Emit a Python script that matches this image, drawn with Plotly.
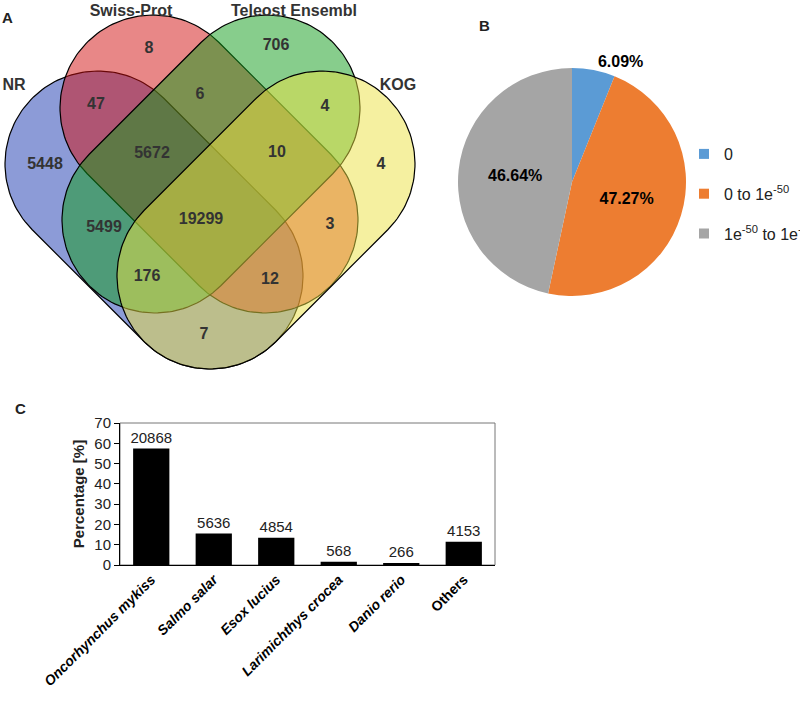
import numpy as np
import plotly.graph_objects as go

FONT = "Arial, Liberation Sans, sans-serif"

# ---- panel A: four-way annotation overlap ----
venn_sets = ["NR", "Swiss-Prot", "Teleost Ensembl", "KOG"]
venn_regions = ["NR", "SP", "TE", "KOG", "NR&SP", "SP&TE", "TE&KOG", "NR&KOG",
                "NR&SP&TE", "SP&TE&KOG", "NR&SP&TE&KOG", "NR&TE", "SP&KOG",
                "NR&TE&KOG", "NR&SP&KOG"]
venn_counts = [5448, 8, 706, 4, 47, 6, 4, 7, 5672, 10, 19299, 5499, 3, 176, 12]

# ---- panel B: e-value distribution ----
evalue_labels = ["0", "0 to 1e<sup>-50</sup>", "1e<sup>-50</sup> to 1e<sup>-5</sup>"]
evalue_pct = [6.09, 47.27, 46.64]

# ---- panel C: top-hit species ----
species = ["Oncorhynchus mykiss", "Salmo salar", "Esox lucius",
           "Larimichthys crocea", "Danio rerio", "Others"]
species_pct = [57.4, 15.5, 13.4, 1.6, 0.7, 11.4]
species_hits = [20868, 5636, 4854, 568, 266, 4153]

# venn layout (axis units = pixels of the panel)
R = 93
capsule_ends = {
    "NR": ((98, 164), (210, 276)),
    "Swiss-Prot": ((153, 108), (265, 220)),
    "Teleost Ensembl": ((267, 108), (155, 220)),
    "KOG": ((322, 164), (210, 276)),
}
set_fill = {
    "NR": "rgba(25,55,175,0.5)",
    "Swiss-Prot": "rgba(209,15,15,0.5)",
    "Teleost Ensembl": "rgba(15,155,25,0.5)",
    "KOG": "rgba(235,225,65,0.5)",
}
set_label_pos = {"NR": (14, 86), "Swiss-Prot": (131, 12),
                 "Teleost Ensembl": (294, 12), "KOG": (398, 86)}
region_pos = {
    "NR": (45, 165), "SP": (149, 49), "TE": (276, 46), "KOG": (381, 165),
    "NR&SP": (96, 105), "SP&TE": (200, 95), "TE&KOG": (325, 107),
    "NR&KOG": (204, 335), "NR&SP&TE": (152, 154), "SP&TE&KOG": (277, 153),
    "NR&SP&TE&KOG": (201, 220), "NR&TE": (104, 228), "SP&KOG": (330, 225),
    "NR&TE&KOG": (147, 277), "NR&SP&KOG": (270, 280),
}


def capsule(p1, p2, r, n=80):
    p1, p2 = np.asarray(p1, float), np.asarray(p2, float)
    d = p2 - p1
    ang = np.arctan2(d[1], d[0])
    t1 = np.linspace(ang + np.pi / 2, ang + 3 * np.pi / 2, n)
    t2 = np.linspace(ang - np.pi / 2, ang + np.pi / 2, n)
    xs = np.concatenate([p1[0] + r * np.cos(t1), p2[0] + r * np.cos(t2), [p1[0] + r * np.cos(t1[0])]])
    ys = np.concatenate([p1[1] + r * np.sin(t1), p2[1] + r * np.sin(t2), [p1[1] + r * np.sin(t1[0])]])
    return xs, ys


fig = go.Figure()

for name in venn_sets:
    xs, ys = capsule(*capsule_ends[name], R)
    fig.add_trace(go.Scatter(
        x=xs, y=ys, mode="lines", fill="toself",
        fillcolor=set_fill[name], line=dict(color="black", width=1.2),
        hoverinfo="skip", showlegend=False, xaxis="x", yaxis="y"
    ))

fig.add_trace(go.Scatter(
    x=[region_pos[r][0] for r in venn_regions],
    y=[region_pos[r][1] for r in venn_regions],
    text=[f"<b>{c}</b>" for c in venn_counts],
    mode="text", textfont=dict(family=FONT, size=16, color="#333333"),
    hoverinfo="skip", showlegend=False, xaxis="x", yaxis="y"
))
fig.add_trace(go.Scatter(
    x=[set_label_pos[s][0] for s in venn_sets],
    y=[set_label_pos[s][1] for s in venn_sets],
    text=[f"<b>{s}</b>" for s in venn_sets],
    mode="text", textfont=dict(family=FONT, size=16, color="#333333"),
    hoverinfo="skip", showlegend=False, xaxis="x", yaxis="y"
))

# pie
pie_colors = ["#5B9BD5", "#ED7D31", "#A5A5A5"]
fig.add_trace(go.Pie(
    labels=evalue_labels, values=evalue_pct,
    sort=False, direction="clockwise", rotation=0,
    marker=dict(colors=pie_colors, line=dict(width=0)),
    texttemplate="<b>%{value:.2f}%</b>",
    textposition=["outside", "inside", "inside"],
    insidetextorientation="horizontal",
    textfont=dict(family=FONT, size=16, color="black"),
    showlegend=False, hoverinfo="skip",
    domain=dict(x=[458 / 800, 686 / 800], y=[1 - 296 / 704, 1 - 68 / 704])
))
# legend entries for the pie
for lab, col in zip(evalue_labels, pie_colors):
    fig.add_trace(go.Scatter(
        x=[None], y=[None], mode="markers", name=lab, legendgroup=lab,
        marker=dict(symbol="square", size=10, color=col),
        xaxis="x", yaxis="y"
    ))

# bars
fig.add_trace(go.Bar(
    x=species, y=species_pct, text=species_hits, textposition="outside",
    constraintext="none",
    textfont=dict(family=FONT, size=15, color="#222222"),
    marker=dict(color="black", line=dict(width=0)),
    cliponaxis=False, showlegend=False, hoverinfo="skip",
    xaxis="x2", yaxis="y2"
))

tick_text = [f"<b><i>{s}</i></b>" if s != "Others" else f"<b>{s}</b>" for s in species]

panel_letter = dict(xref="paper", yref="paper", xanchor="center", yanchor="middle",
                    showarrow=False, font=dict(family=FONT, size=15, color="#222222"))

fig.update_layout(
    width=800, height=704,
    margin=dict(l=0, r=0, t=0, b=0, autoexpand=False),
    paper_bgcolor="white", plot_bgcolor="rgba(0,0,0,0)",
    font=dict(family=FONT, color="#222222"),
    bargap=0.42,
    xaxis=dict(domain=[0, 420 / 800], range=[0, 420], visible=False),
    yaxis=dict(domain=[1 - 372 / 704, 1], range=[372, 0], visible=False),
    xaxis2=dict(domain=[120 / 800, 495 / 800], anchor="y2", range=[-0.5, 5.5],
                showline=True, linecolor="black", linewidth=1, ticks="",
                tickvals=species, ticktext=tick_text, tickangle=-45,
                tickfont=dict(family=FONT, size=14, color="black"),
                showgrid=False, zeroline=False, fixedrange=True),
    yaxis2=dict(domain=[1 - 565 / 704, 1 - 423 / 704], anchor="x2", range=[0, 70],
                dtick=10, showline=True, linecolor="black", linewidth=1,
                ticks="outside", ticklen=5, tickcolor="black",
                tickfont=dict(family=FONT, size=15, color="#222222"),
                title=dict(text="<b>Percentage [%]</b>", font=dict(family=FONT, size=15, color="#222222"),
                           standoff=6),
                showgrid=False, zeroline=False),
    legend=dict(x=684 / 800, y=1 - 137 / 704, xanchor="left", yanchor="top",
                font=dict(family=FONT, size=16, color="#222222"),
                tracegroupgap=16, bgcolor="rgba(0,0,0,0)", itemclick=False),
    shapes=[dict(type="rect", xref="x2 domain", yref="y2 domain",
                 x0=0, x1=1, y0=0, y1=1, line=dict(color="#777777", width=1), layer="below")],
    annotations=[
        dict(text="<b>A</b>", x=7 / 800, y=1 - 17 / 704, **panel_letter),
        dict(text="<b>B</b>", x=484 / 800, y=1 - 25 / 704, **panel_letter),
        dict(text="<b>C</b>", x=20 / 800, y=1 - 408 / 704, **panel_letter),
    ],
)

# drop the browser's default body margin so the figure sits at the page corner
fig.write_html("out.html", config={"displayModeBar": False},
               post_script="document.body.style.margin='0';")
